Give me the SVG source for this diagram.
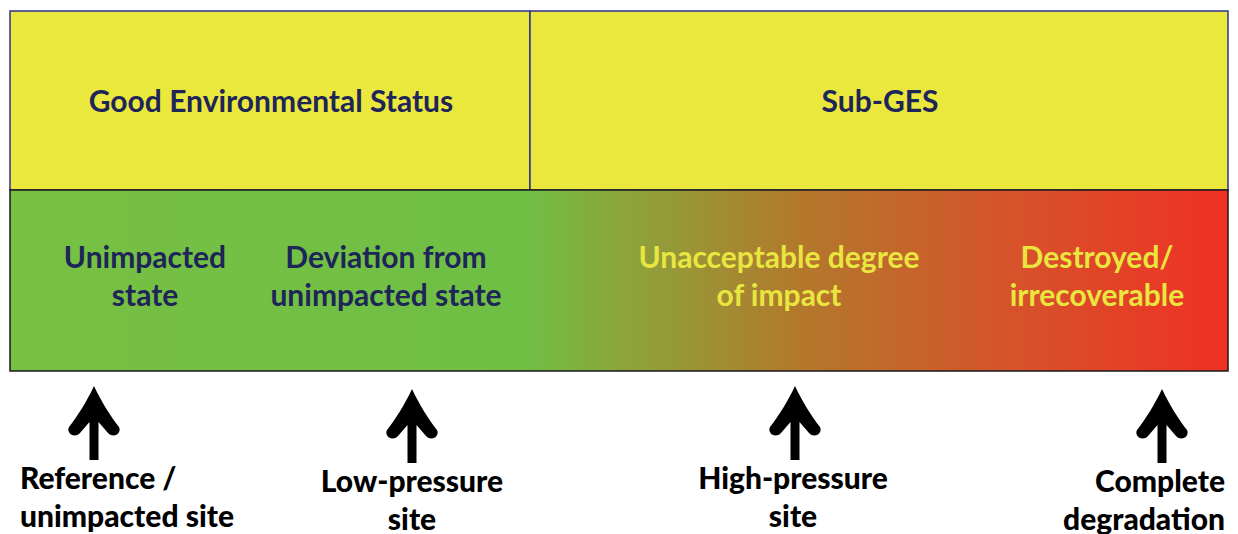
<svg xmlns="http://www.w3.org/2000/svg" width="1238" height="534" viewBox="0 0 1238 534">
<defs>
<linearGradient id="grad" x1="10" y1="0" x2="1228" y2="0" gradientUnits="userSpaceOnUse">
<stop offset="0" stop-color="#77c043"/>
<stop offset="0.42" stop-color="#6fbf45"/>
<stop offset="0.5" stop-color="#8aa63c"/>
<stop offset="0.65" stop-color="#b3782c"/>
<stop offset="0.82" stop-color="#d6532a"/>
<stop offset="1" stop-color="#ef3124"/>
</linearGradient>
<path id="arrow" d="M0,0 C-7,15 -17,31 -25,41 C-28,47 -20,53 -14,47 L-4.5,36 L-4.5,74 L4.5,74 L4.5,36 L14,47 C20,53 28,47 25,41 C17,31 7,15 0,0 Z"/>
</defs>
<style>
.t{font-family:Lato,"Open Sans","Liberation Sans",sans-serif;font-weight:700;font-size:30px;text-anchor:middle}
.navy{fill:#1e2558}
.yel{fill:#e8e63f}
.b{font-family:Lato,"Open Sans","Liberation Sans",sans-serif;font-weight:900;font-size:30px;fill:#000}
</style>
<rect width="1238" height="534" fill="#fff"/>
<g id="ges">
<rect x="10" y="11" width="520" height="179" fill="#ebe83d" stroke="#2e3192" stroke-width="1.5"/>
<text class="t navy" x="271" y="112">Good Environmental Status</text>
</g>
<g id="subges">
<rect x="530" y="11" width="698" height="179" fill="#ebe83d" stroke="#2e3192" stroke-width="1.5"/>
<text class="t navy" x="880" y="112">Sub-GES</text>
</g>
<g id="gradient-band">
<rect x="10" y="190" width="1218" height="181" fill="url(#grad)" stroke="#1a1a1a" stroke-width="1.5"/>
</g>
<g id="unimpacted">
<text class="t navy" x="145" y="268">Unimpacted</text>
<text class="t navy" x="145" y="306">state</text>
</g>
<g id="deviation">
<text class="t navy" x="386" y="268">Deviation from</text>
<text class="t navy" x="386" y="306">unimpacted state</text>
</g>
<g id="unacceptable">
<text class="t yel" x="779" y="268">Unacceptable degree</text>
<text class="t yel" x="779" y="306">of impact</text>
</g>
<g id="destroyed">
<text class="t yel" x="1097" y="268">Destroyed/</text>
<text class="t yel" x="1097" y="306">irrecoverable</text>
</g>
<g id="connectors">
<use href="#arrow" x="94" y="386"/>
<use href="#arrow" x="412" y="389"/>
<use href="#arrow" x="795" y="386"/>
<use href="#arrow" x="1162" y="389"/>
</g>
<g id="reference">
<text class="b" x="20" y="489">Reference /</text>
<text class="b" x="20" y="527">unimpacted site</text>
</g>
<g id="low">
<text class="b" x="412" y="492" text-anchor="middle">Low-pressure</text>
<text class="b" x="412" y="530" text-anchor="middle">site</text>
</g>
<g id="high">
<text class="b" x="793" y="489" text-anchor="middle">High-pressure</text>
<text class="b" x="793" y="527" text-anchor="middle">site</text>
</g>
<g id="complete">
<text class="b" x="1225" y="492" text-anchor="end">Complete</text>
<text class="b" x="1225" y="530" text-anchor="end">degradation</text>
</g>
</svg>
